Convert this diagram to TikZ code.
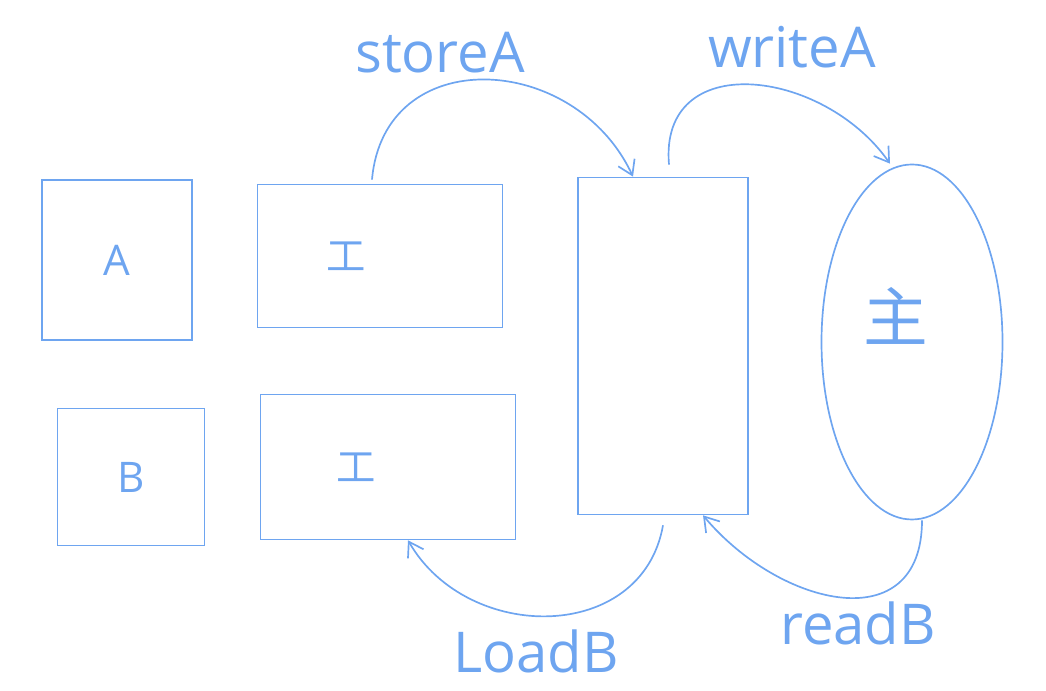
\documentclass[tikz,border=0pt]{standalone}
\usepackage{fontspec}
\setmainfont{Open Sans}
\newfontfamily\cjk{Noto Sans CJK SC}
\usetikzlibrary{arrows.meta,shapes.geometric}
\definecolor{pencil}{RGB}{110,165,240}
\begin{document}
\begin{tikzpicture}[
    pen/.style={draw=pencil,line width=1.2pt},
    thread/.style={pen,rectangle,minimum width=#1,inner sep=0pt},
    flow/.style={pen,-{Straight Barb[length=0.35cm,width=0.45cm]}},
    word/.style={text=pencil,font=\fontsize{30}{30}\selectfont},
    tag/.style={text=pencil,font=\fontsize{40}{40}\selectfont}
]
\useasboundingbox (0,0) rectangle (26.15,17.275);
% threads
\node[thread=3.75cm,minimum height=4cm,word] (A) at (2.925,10.775) {A};
\node[thread=3.675cm,minimum height=3.425cm,word] (B) at (3.275,5.35) {B};
% working copies
\node[thread=6.125cm,minimum height=3.575cm,
    label={[word,font=\cjk\fontsize{28}{28}\selectfont,xshift=-0.85cm]center:工}] (W1) at (9.5,10.875) {};
\node[thread=6.375cm,minimum height=3.625cm,
    label={[word,font=\cjk\fontsize{28}{28}\selectfont,xshift=-0.8cm]center:工}] (W2) at (9.7,5.6) {};
% bus and main memory
\node[thread=4.25cm,minimum height=8.425cm] (M) at (16.575,8.625) {};
\node[pen,ellipse,minimum width=4.525cm,minimum height=8.875cm,inner sep=0pt,
    label={[word,font=\cjk\fontsize{46}{46}\selectfont,xshift=-0.4cm,yshift=0.65cm]center:主}] (E) at (22.8,8.725) {};
% transfers
\coordinate (s0) at ([xshift=-0.2cm,yshift=0.1cm]W1.north);
\coordinate (s1) at ([xshift=-0.75cm]M.north);
\coordinate (w0) at ([xshift=0.15cm,yshift=0.3cm]M.north);
\coordinate (w1) at ([xshift=-0.55cm]E.north);
\coordinate (r0) at ([xshift=0.25cm]E.south);
\coordinate (r1) at ([xshift=1cm]M.south);
\coordinate (l0) at ([yshift=-0.25cm]M.south);
\coordinate (l1) at ([xshift=0.5cm]W2.south);
\draw[flow] (s0) to[out=85,in=115,looseness=1.35] (s1);
\draw[flow] (w0) to[out=95,in=125,looseness=1.35] (w1);
\draw[flow] (r0) to[out=-90,in=-50,looseness=1.4] (r1);
\draw[flow] (l0) to[out=-100,in=-60,looseness=1.2] (l1);
\node[tag] (storeA) at (11,15.95) {storeA};
\node[tag] (writeA) at (19.8,16.1) {writeA};
\node[tag] (loadB) at (13.4,1.0) {LoadB};
\node[tag] (readB) at (21.45,1.7) {readB};
\end{tikzpicture}
\end{document}
